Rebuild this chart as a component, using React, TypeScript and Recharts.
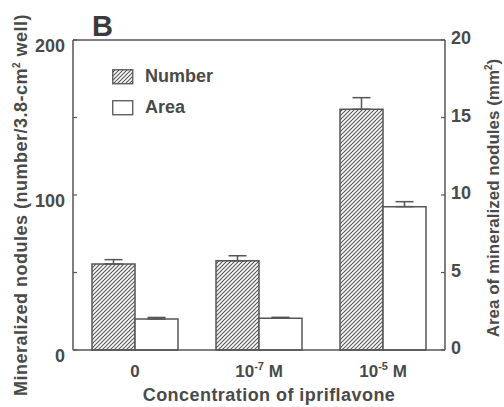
import React from 'react';
import { BarChart, Bar, XAxis, YAxis, ErrorBar, ReferenceLine, Legend } from 'recharts';

const categories = ['0', '10-7 M', '10-5 M'];
const numberValues = [55.5, 57.6, 155.3];
const numberErrors = [2.8, 3.2, 7.5];
const areaValues = [2.0, 2.05, 9.25];
const areaErrors = [0.1, 0.06, 0.32];
const leftTicks = [0, 50, 100, 150, 200];
const leftLabelled = [0, 100, 200];
const rightTicks = [0, 5, 10, 15, 20];

const data = categories.map((c, i) => ({
  cat: c,
  number: numberValues[i],
  numberErr: [0, numberErrors[i]],
  area: areaValues[i],
  areaErr: [0, areaErrors[i]],
}));

const FONT = '"Liberation Sans", Arial, Helvetica, sans-serif';
const TXT = '#4a4a4a';
const LINE = '#555555';

const XTick = (props: any) => {
  const { x, y, payload } = props;
  const v: string = payload.value;
  const m = v.match(/^(\d+)(-\d+)\s(.*)$/);
  return (
    <text x={x} y={y + 19} textAnchor="middle" fontFamily={FONT} fontWeight="bold" fontSize={17} fill={TXT}>
      {m ? (
        <>
          <tspan>{m[1]}</tspan>
          <tspan fontSize={11} dy={-7}>{m[2]}</tspan>
          <tspan dy={7}>{' ' + m[3]}</tspan>
        </>
      ) : (
        v
      )}
    </text>
  );
};

const LeftTick = (props: any) => {
  const { x, y, payload } = props;
  const ax = x + 8;
  return (
    <g>
      <line x1={ax} x2={ax + 4} y1={y} y2={y} stroke={LINE} strokeWidth={1.2} />
      {leftLabelled.includes(payload.value) && (
        <text x={x} y={y} dy={12} textAnchor="end" fontFamily={FONT} fontWeight="bold" fontSize={18} fill={TXT}>
          {payload.value}
        </text>
      )}
    </g>
  );
};

const RightTick = (props: any) => {
  const { x, y, payload } = props;
  const ax = x - 6;
  return (
    <g>
      <line x1={ax - 4} x2={ax} y1={y} y2={y} stroke={LINE} strokeWidth={1.2} />
      <text x={x} y={y} dy={4} textAnchor="start" fontFamily={FONT} fontWeight="bold" fontSize={18} fill={TXT}>
        {payload.value}
      </text>
    </g>
  );
};

const HatchDefs = ({ id }: { id: string }) => (
  <defs>
    <pattern id={id} patternUnits="userSpaceOnUse" width={4} height={4}>
      <rect width={4} height={4} fill="#ffffff" />
      <path d="M-1,1 L1,-1 M0,4 L4,0 M3,5 L5,3" stroke="#5a5a5a" strokeWidth={1.2} />
    </pattern>
  </defs>
);

const LegendContent = () => (
  <div style={{ fontFamily: FONT, fontWeight: 'bold', fontSize: 18, color: TXT }}>
    {[
      { name: 'Number', hatch: true },
      { name: 'Area', hatch: false },
    ].map((it) => (
      <div key={it.name} style={{ display: 'flex', alignItems: 'center', height: 31 }}>
        <svg width={22} height={16} style={{ marginRight: 11 }}>
          {it.hatch && <HatchDefs id="legHatch" />}
          <rect x={0.75} y={0.75} width={20} height={14} fill={it.hatch ? 'url(#legHatch)' : '#fff'} stroke={LINE} strokeWidth={1.3} />
        </svg>
        <span>{it.name}</span>
      </div>
    ))}
  </div>
);

export default function App() {
  return (
    <div style={{ position: 'absolute', left: 0, top: 0, width: 504, height: 407, background: '#fff', overflow: 'hidden' }}>
      <BarChart
        width={504}
        height={407}
        data={data}
        margin={{ top: 40, right: 0, bottom: 0, left: 0 }}
        barCategoryGap={19}
        barGap={0}
      >
        <HatchDefs id="barHatch" />
        <XAxis
          dataKey="cat"
          height={57}
          tickLine={false}
          axisLine={{ stroke: LINE, strokeWidth: 1.5 }}
          tick={<XTick />}
          interval={0}
        />
        <YAxis
          yAxisId="left"
          orientation="left"
          width={73}
          domain={[0, 200]}
          ticks={leftTicks}
          tickLine={false}
          tickSize={0}
          tickMargin={8}
          axisLine={{ stroke: LINE, strokeWidth: 1.5 }}
          tick={<LeftTick />}
          interval={0}
        />
        <YAxis
          yAxisId="right"
          orientation="right"
          width={59}
          domain={[0, 20]}
          ticks={rightTicks}
          tickLine={false}
          tickSize={0}
          tickMargin={6}
          axisLine={{ stroke: LINE, strokeWidth: 1.5 }}
          tick={<RightTick />}
          interval={0}
        />
        <ReferenceLine yAxisId="left" y={200} stroke={LINE} strokeWidth={1.5} />
        <Legend
          layout="vertical"
          verticalAlign="middle"
          align="center"
          content={<LegendContent />}
          wrapperStyle={{ position: 'absolute', left: 112, top: 61, width: 150 }}
        />
        <Bar yAxisId="left" dataKey="number" name="Number" fill="url(#barHatch)" stroke={LINE} strokeWidth={1.5} isAnimationActive={false}>
          <ErrorBar dataKey="numberErr" direction="y" width={9} stroke={LINE} strokeWidth={1.5} />
        </Bar>
        <Bar yAxisId="right" dataKey="area" name="Area" fill="#ffffff" stroke={LINE} strokeWidth={1.5} isAnimationActive={false}>
          <ErrorBar dataKey="areaErr" direction="y" width={9} stroke={LINE} strokeWidth={1.5} />
        </Bar>
      </BarChart>
      <div style={{ position: 'absolute', left: 92, top: 9, fontFamily: FONT, fontWeight: 'bold', fontSize: 29, color: '#3a3a3a', lineHeight: '34px' }}>
        B
      </div>
      <div style={{ position: 'absolute', left: 0, width: 504, top: 385, textAlign: 'center', paddingLeft: 34, boxSizing: 'border-box', fontFamily: FONT, fontWeight: 'bold', fontSize: 18, letterSpacing: 0.45, color: TXT, lineHeight: '20px' }}>
        Concentration of ipriflavone
      </div>
      <div style={{ position: 'absolute', left: 21, top: 205, width: 0, height: 0 }}>
        <div style={{ position: 'absolute', transform: 'translate(-50%, -50%) rotate(-90deg)', whiteSpace: 'nowrap', fontFamily: FONT, fontWeight: 'bold', fontSize: 18, letterSpacing: 0.5, color: TXT, lineHeight: '18px' }}>
          Mineralized nodules (number/3.8-cm<sup style={{ fontSize: 10, lineHeight: 0 }}>2</sup> well)
        </div>
      </div>
      <div style={{ position: 'absolute', left: 493, top: 198, width: 0, height: 0 }}>
        <div style={{ position: 'absolute', transform: 'translate(-50%, -50%) rotate(-90deg)', whiteSpace: 'nowrap', fontFamily: FONT, fontWeight: 'bold', fontSize: 17, color: TXT, lineHeight: '17px' }}>
          Area of mineralized nodules (mm<sup style={{ fontSize: 10, lineHeight: 0 }}>2</sup>)
        </div>
      </div>
    </div>
  );
}
